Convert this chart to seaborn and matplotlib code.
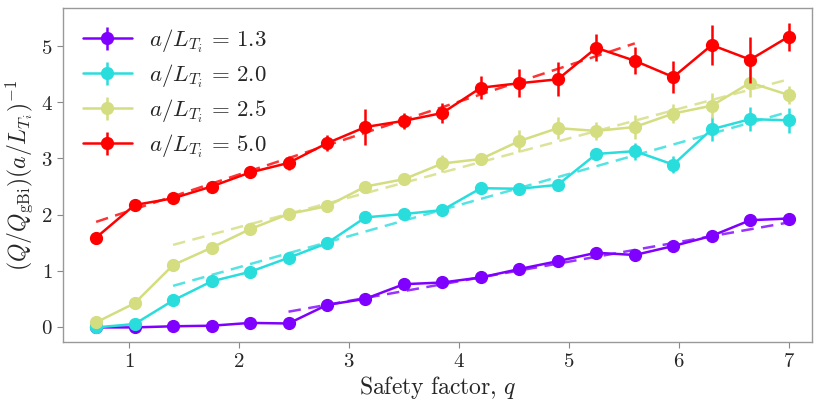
import numpy as np
import pandas as pd
import matplotlib
matplotlib.use("Agg")
import matplotlib.pyplot as plt
import seaborn as sns
from matplotlib.ticker import FuncFormatter

q = [0.7, 1.05, 1.4, 1.75, 2.1, 2.45, 2.8, 3.15, 3.5, 3.85,
     4.2, 4.55, 4.9, 5.25, 5.6, 5.95, 6.3, 6.65, 7.0]

labels = ["1.3", "2.0", "2.5", "5.0"]

y_13 = [-0.01, -0.01, 0.01, 0.02, 0.07, 0.06, 0.39, 0.50, 0.76, 0.79,
        0.88, 1.03, 1.17, 1.32, 1.28, 1.44, 1.62, 1.90, 1.93]
e_13 = [0.02, 0.02, 0.02, 0.02, 0.03, 0.03, 0.04, 0.04, 0.05, 0.04,
        0.04, 0.04, 0.04, 0.04, 0.04, 0.05, 0.05, 0.05, 0.06]

y_20 = [-0.01, 0.05, 0.47, 0.81, 0.98, 1.23, 1.49, 1.95, 2.01, 2.08,
        2.47, 2.46, 2.53, 3.08, 3.13, 2.89, 3.52, 3.70, 3.68]
e_20 = [0.02, 0.03, 0.03, 0.03, 0.03, 0.04, 0.04, 0.05, 0.05, 0.11,
        0.05, 0.05, 0.06, 0.05, 0.15, 0.15, 0.21, 0.22, 0.22]

y_25 = [0.08, 0.42, 1.10, 1.41, 1.74, 2.01, 2.15, 2.50, 2.63, 2.91,
        2.99, 3.31, 3.54, 3.49, 3.56, 3.80, 3.94, 4.35, 4.13]
e_25 = [0.02, 0.03, 0.03, 0.03, 0.04, 0.04, 0.04, 0.05, 0.05, 0.15,
        0.11, 0.19, 0.20, 0.16, 0.21, 0.17, 0.22, 0.25, 0.16]

y_50 = [1.59, 2.17, 2.29, 2.50, 2.75, 2.92, 3.27, 3.56, 3.67, 3.81,
        4.26, 4.34, 4.41, 4.97, 4.74, 4.45, 5.02, 4.76, 5.17]
e_50 = [0.04, 0.10, 0.05, 0.10, 0.05, 0.12, 0.14, 0.32, 0.14, 0.17,
        0.20, 0.25, 0.30, 0.24, 0.24, 0.28, 0.36, 0.41, 0.25]

# dashed linear fits: end points
fit_x0 = [2.45, 1.4, 1.4, 0.7]
fit_x1 = [7.0, 7.0, 7.0, 5.6]
fit_y0 = [0.27, 0.73, 1.46, 1.87]
fit_y1 = [1.86, 3.83, 4.41, 5.05]

series_y = [y_13, y_20, y_25, y_50]
series_e = [e_13, e_20, e_25, e_50]

sns.set_style("ticks")
plt.rcParams["mathtext.fontset"] = "cm"
plt.rcParams["font.family"] = ["DejaVu Serif"]

colors = [plt.cm.rainbow(v) for v in np.linspace(0, 1, 4)]

fig = plt.figure(figsize=(8.2, 4.0), dpi=100)
ax = fig.add_axes([0.077, 0.145, 0.913, 0.835])

# fits via seaborn
fit_rows = []
for i, lab in enumerate(labels):
    fit_rows.append({"q": fit_x0[i], "v": fit_y0[i], "s": lab})
    fit_rows.append({"q": fit_x1[i], "v": fit_y1[i], "s": lab})
fit_df = pd.DataFrame(fit_rows)
sns.lineplot(data=fit_df, x="q", y="v", hue="s", palette=colors,
             linestyle="--", linewidth=1.8, alpha=0.8, legend=False, ax=ax,
             zorder=2)
for ln in ax.get_lines():
    ln.set_dashes([5, 3])

handles = []
for i, lab in enumerate(labels):
    h = ax.errorbar(q, series_y[i], yerr=series_e[i], color=colors[i],
                    marker="o", markersize=8.5, linewidth=1.8,
                    elinewidth=1.8, capsize=0, zorder=3 + i,
                    label=r"$a/L_{T_i}\,=\,%s$" % lab)
    handles.append(h)

ax.set_xlim(0.4, 7.21)
ax.set_ylim(-0.27, 5.68)
ax.set_xticks([1, 2, 3, 4, 5, 6, 7])
ax.set_yticks([0, 1, 2, 3, 4, 5])
fmt = FuncFormatter(lambda v, p: r"$%d$" % int(round(v)))
ax.xaxis.set_major_formatter(fmt)
ax.yaxis.set_major_formatter(fmt)
ax.tick_params(labelsize=15, color="#888888", length=4)
for sp in ax.spines.values():
    sp.set_color("#999999")
    sp.set_linewidth(1.0)

ax.set_xlabel(r"$\mathrm{Safety\ factor,}\,q$", fontsize=17, labelpad=2)
ax.set_ylabel(r"$(Q/Q_{\rm gBi})(a/L_{T_i})^{-1}$", fontsize=17, labelpad=4)

ax.legend(handles=handles, loc="upper left", frameon=False, fontsize=16.5,
          handlelength=2.15, borderaxespad=0.45, labelspacing=0.32,
          handletextpad=0.75, borderpad=0.4)

fig.savefig("out.png", dpi=100)
